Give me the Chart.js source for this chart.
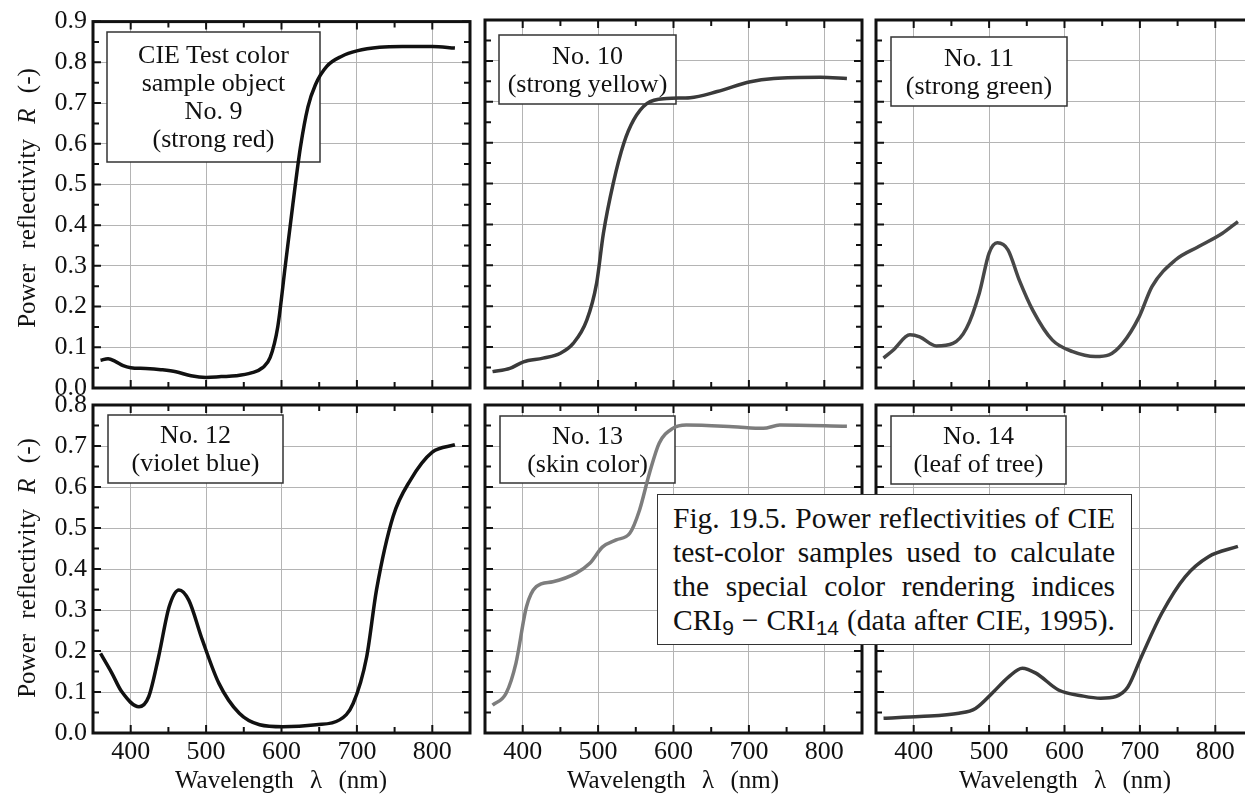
<!DOCTYPE html>
<html>
<head>
<meta charset="utf-8">
<script src="https://cdn.jsdelivr.net/npm/chart.js@4.4.0/dist/chart.umd.min.js"></script>
<style>
  html, body { margin: 0; padding: 0; background: #fff; }
  body { width: 1245px; height: 796px; overflow: hidden; position: relative;
         font-family: "Liberation Serif", "Times New Roman", serif; color: #111; }
  canvas { position: absolute; left: 0; top: 0; }
  .lbl { position: absolute; display: flex; flex-direction: column; justify-content: center;
         align-items: center; font-size: 26px; line-height: 28px; white-space: nowrap; }
  .ytitle { position: absolute; font-size: 25px; word-spacing: 9px; white-space: nowrap;
            transform: translate(-50%, -50%) rotate(-90deg); }
  .xtitle { position: absolute; font-size: 25px; word-spacing: 10px; white-space: nowrap;
            transform: translate(-50%, -50%); }
  #caption { position: absolute; left: 657px; top: 494px; width: 475px; height: 151px;
             box-sizing: border-box; border: 1.5px solid #333; background: #fff;
             padding: 6px 16px 0 15px; font-size: 29.5px; line-height: 34px; }
  #caption div { text-align: justify; text-align-last: justify; }
  #caption sub { font-family: "Liberation Sans", Arial, sans-serif; font-size: 21px;
                 line-height: 0; vertical-align: -5px; }
</style>
</head>
<body>
<div id="charts"></div>

<div class="ytitle" style="left:27px; top:198px;">Power reflectivity <i>R</i> (-)</div>
<div class="ytitle" style="left:27px; top:568px;">Power reflectivity <i>R</i> (-)</div>
<div class="xtitle" style="left:281px; top:780px;">Wavelength λ (nm)</div>
<div class="xtitle" style="left:673px; top:780px;">Wavelength λ (nm)</div>
<div class="xtitle" style="left:1065px; top:780px;">Wavelength λ (nm)</div>

<div class="lbl" style="left:107px; top:32px; width:213px; height:130px;">
  <div>CIE Test color</div><div>sample object</div><div>No. 9</div><div>(strong red)</div>
</div>
<div class="lbl" style="left:499px; top:35px; width:177px; height:69px;">
  <div>No. 10</div><div>(strong yellow)</div>
</div>
<div class="lbl" style="left:891px; top:37px; width:176px; height:69px;">
  <div>No. 11</div><div>(strong green)</div>
</div>
<div class="lbl" style="left:108px; top:415px; width:175px; height:68px;">
  <div>No. 12</div><div>(violet blue)</div>
</div>
<div class="lbl" style="left:500px; top:416px; width:175px; height:67px;">
  <div>No. 13</div><div>(skin color)</div>
</div>
<div class="lbl" style="left:891px; top:416px; width:175px; height:68px;">
  <div>No. 14</div><div>(leaf of tree)</div>
</div>

<div id="caption">
  <div>Fig. 19.5. Power reflectivities of CIE</div>
  <div>test-color samples used to calculate</div>
  <div>the special color rendering indices</div>
  <div>CRI<sub>9</sub> − CRI<sub>14</sub> (data after CIE, 1995).</div>
</div>

<script>
// 刻度
const xTicks = [400, 500, 600, 700, 800];
const yTicksTop = [0, 0.1, 0.2, 0.3, 0.4, 0.5, 0.6, 0.7, 0.8, 0.9];
const yTicksBottom = [0, 0.1, 0.2, 0.3, 0.4, 0.5, 0.6, 0.7, 0.8];

// No. 9 (strong red)
const wl9 = [360, 370, 380, 390, 400, 420, 440, 460, 480, 500, 520, 540, 560, 575, 585, 595, 605, 615, 625, 635, 645, 660, 680, 700, 730, 760, 800, 830];
const r9  = [0.068, 0.072, 0.065, 0.055, 0.050, 0.048, 0.045, 0.040, 0.030, 0.026, 0.028, 0.030, 0.037, 0.050, 0.075, 0.150, 0.300, 0.450, 0.590, 0.690, 0.745, 0.790, 0.815, 0.828, 0.837, 0.839, 0.839, 0.835];

// No. 10 (strong yellow)
const wl10 = [360, 383, 401, 427, 450, 467, 485, 498, 507, 520, 534, 547, 565, 591, 622, 658, 702, 733, 795, 830];
const r10  = [0.040, 0.048, 0.064, 0.073, 0.085, 0.109, 0.166, 0.256, 0.378, 0.500, 0.598, 0.655, 0.696, 0.708, 0.710, 0.725, 0.749, 0.757, 0.760, 0.757];

// No. 11 (strong green)
const wl11 = [360, 373, 395, 408, 430, 452, 470, 487, 500, 511, 525, 540, 558, 584, 611, 641, 659, 677, 699, 716, 747, 778, 809, 830];
const r11  = [0.073, 0.093, 0.130, 0.125, 0.103, 0.109, 0.146, 0.232, 0.330, 0.355, 0.338, 0.264, 0.190, 0.117, 0.089, 0.077, 0.081, 0.109, 0.174, 0.248, 0.313, 0.346, 0.378, 0.407];

// No. 12 (violet blue)
const wl12 = [360, 375, 388, 411, 424, 437, 451, 464, 477, 495, 517, 544, 571, 602, 646, 677, 695, 713, 726, 748, 771, 800, 830];
const r12  = [0.194, 0.146, 0.101, 0.064, 0.089, 0.186, 0.308, 0.349, 0.324, 0.227, 0.121, 0.048, 0.020, 0.015, 0.020, 0.032, 0.072, 0.186, 0.349, 0.528, 0.617, 0.685, 0.703];

// No. 13 (skin color)
const wl13 = [360, 378, 391, 405, 418, 440, 471, 489, 506, 524, 542, 555, 568, 581, 599, 617, 679, 719, 741, 830];
const r13  = [0.068, 0.097, 0.170, 0.308, 0.357, 0.369, 0.390, 0.414, 0.454, 0.471, 0.487, 0.544, 0.633, 0.707, 0.743, 0.751, 0.747, 0.743, 0.751, 0.748];

// No. 14 (leaf of tree)
const wl14 = [360, 408, 460, 482, 504, 526, 544, 562, 592, 625, 648, 668, 684, 702, 729, 760, 791, 830];
const r14  = [0.036, 0.040, 0.048, 0.060, 0.097, 0.137, 0.158, 0.146, 0.105, 0.090, 0.085, 0.089, 0.112, 0.186, 0.292, 0.381, 0.430, 0.455];

// 版面
const CW = 1265, CH = 796, PW = 377;
const colLeft = [93, 485, 876];
const rowTop = [20, 405];
const rowBottom = [388, 733];
const X_AXIS_H = 40;
const FONT = '"Liberation Serif", "Times New Roman", serif';
const GRID = '#b4b4b4';

const panels = [
  { r: 0, c: 0, wl: wl9,  val: r9,  color: '#111', box: [107, 32, 213, 130] },
  { r: 0, c: 1, wl: wl10, val: r10, color: '#3a3a3a', box: [499, 35, 177, 69] },
  { r: 0, c: 2, wl: wl11, val: r11, color: '#474747', box: [891, 37, 176, 69] },
  { r: 1, c: 0, wl: wl12, val: r12, color: '#111', box: [108, 415, 175, 68] },
  { r: 1, c: 1, wl: wl13, val: r13, color: '#7d7d7d', box: [500, 416, 175, 67] },
  { r: 1, c: 2, wl: wl14, val: r14, color: '#3a3a3a', box: [891, 416, 175, 68] }
];

// 边框、内刻度、标签框
const framePlugin = {
  id: 'frame',
  beforeDatasetsDraw(chart, args, opts) {
    const b = opts.box;
    if (!b) return;
    const ctx = chart.ctx;
    ctx.save();
    ctx.fillStyle = '#fff';
    ctx.fillRect(b[0], b[1], b[2], b[3]);
    ctx.strokeStyle = '#333';
    ctx.lineWidth = 1.5;
    ctx.strokeRect(b[0], b[1], b[2], b[3]);
    ctx.restore();
  },
  afterDraw(chart) {
    const { ctx, chartArea: a, scales: { x, y } } = chart;
    ctx.save();
    ctx.strokeStyle = '#111';
    ctx.lineWidth = 2;
    ctx.beginPath();
    for (let v = 350; v <= 850; v += 50) {
      const px = x.getPixelForValue(v);
      const len = v % 100 === 0 ? 8 : 6;
      ctx.moveTo(px, a.top); ctx.lineTo(px, a.top + len);
      ctx.moveTo(px, a.bottom); ctx.lineTo(px, a.bottom - len);
    }
    for (let i = 0; i * 0.05 <= y.max + 1e-9; i++) {
      const py = y.getPixelForValue(i * 0.05);
      const len = i % 2 === 0 ? 8 : 6;
      ctx.moveTo(a.left, py); ctx.lineTo(a.left + len, py);
      ctx.moveTo(a.right, py); ctx.lineTo(a.right - len, py);
    }
    ctx.stroke();
    ctx.lineWidth = 3;
    ctx.strokeRect(a.left, a.top, a.right - a.left, a.bottom - a.top);
    ctx.restore();
  }
};

const holder = document.getElementById('charts');
panels.forEach(p => {
  const cv = document.createElement('canvas');
  cv.width = CW; cv.height = CH;
  holder.appendChild(cv);
  const yTicks = p.r === 0 ? yTicksTop : yTicksBottom;
  const yW = p.c === 0 ? colLeft[0] : 0;
  const xH = p.r === 1 ? X_AXIS_H : 0;
  new Chart(cv, {
    type: 'line',
    data: {
      datasets: [{
        data: p.wl.map((w, i) => ({ x: w, y: p.val[i] })),
        borderColor: p.color,
        borderWidth: 3.5,
        pointRadius: 0,
        cubicInterpolationMode: 'monotone',
        fill: false
      }]
    },
    options: {
      responsive: false,
      animation: false,
      devicePixelRatio: 1,
      layout: {
        padding: {
          left: colLeft[p.c] - yW,
          top: rowTop[p.r],
          right: CW - colLeft[p.c] - PW,
          bottom: CH - rowBottom[p.r] - xH
        }
      },
      plugins: {
        legend: { display: false },
        tooltip: { enabled: false },
        frame: { box: p.box }
      },
      scales: {
        x: {
          type: 'linear', min: 350, max: 850,
          afterBuildTicks: s => { s.ticks = xTicks.map(v => ({ value: v })); },
          afterFit: s => { s.height = xH; },
          border: { display: false },
          grid: { color: GRID, lineWidth: 1, drawTicks: false },
          ticks: { display: p.r === 1, color: '#111', padding: 4, font: { family: FONT, size: 26 } }
        },
        y: {
          type: 'linear', min: 0, max: yTicks[yTicks.length - 1],
          afterBuildTicks: s => { s.ticks = yTicks.map(v => ({ value: v })); },
          afterFit: s => { s.width = yW; },
          border: { display: false },
          grid: { color: GRID, lineWidth: 1, drawTicks: false },
          ticks: { display: p.c === 0, color: '#111', padding: 6, font: { family: FONT, size: 26 },
                   callback: v => v.toFixed(1) }
        }
      }
    },
    plugins: [framePlugin]
  });
});
</script>
</body>
</html>
